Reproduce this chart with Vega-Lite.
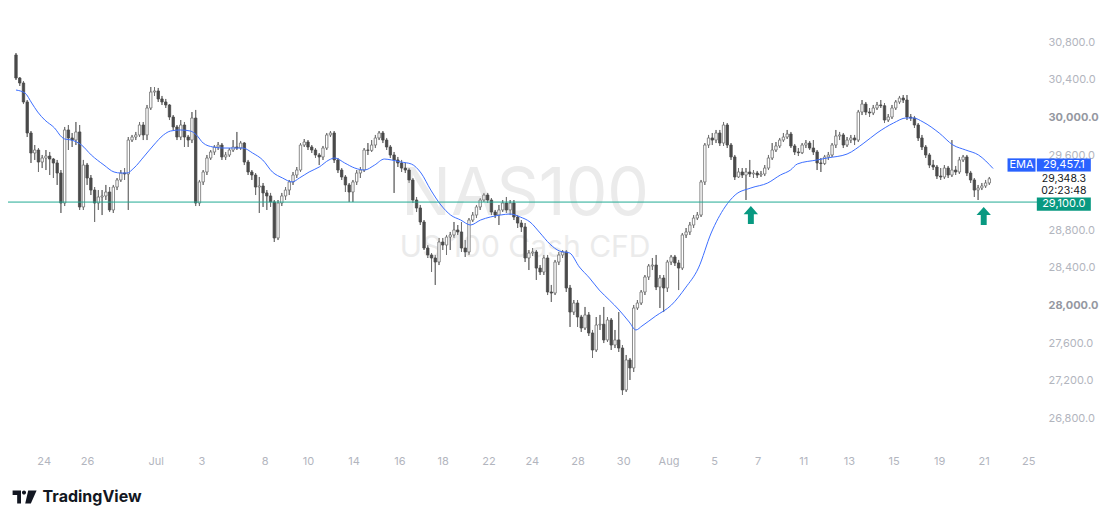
{
  "$schema": "https://vega.github.io/schema/vega-lite/v6.json",
  "width": 1032,
  "height": 448,
  "autosize": "none",
  "padding": {"left": 8, "top": 0, "right": 69, "bottom": 75},
  "background": "#ffffff",
  "config": {"view": {"stroke": null}, "font": "Inter"},
  "datasets": {
    "candles": [
      {"i":0,"o":30665,"h":30686,"l":30399,"c":30420},
      {"i":1,"o":30420,"h":30430,"l":30335,"c":30367},
      {"i":2,"o":30367,"h":30388,"l":30143,"c":30165},
      {"i":3,"o":30165,"h":30186,"l":29792,"c":29835},
      {"i":4,"o":29835,"h":29856,"l":29516,"c":29622},
      {"i":5,"o":29622,"h":29707,"l":29548,"c":29654},
      {"i":6,"o":29654,"h":29675,"l":29420,"c":29526},
      {"i":7,"o":29526,"h":29601,"l":29462,"c":29569},
      {"i":8,"o":29569,"h":29654,"l":29441,"c":29590},
      {"i":9,"o":29590,"h":29633,"l":29388,"c":29558},
      {"i":10,"o":29558,"h":29569,"l":29356,"c":29516},
      {"i":11,"o":29516,"h":29548,"l":29282,"c":29409},
      {"i":12,"o":29409,"h":29441,"l":28984,"c":29090},
      {"i":13,"o":29090,"h":29899,"l":29058,"c":29867},
      {"i":14,"o":29867,"h":29920,"l":29654,"c":29782},
      {"i":15,"o":29782,"h":29835,"l":29686,"c":29760},
      {"i":16,"o":29760,"h":29952,"l":29707,"c":29846},
      {"i":17,"o":29846,"h":29920,"l":29016,"c":29048},
      {"i":18,"o":29048,"h":29548,"l":29016,"c":29494},
      {"i":19,"o":29494,"h":29516,"l":29282,"c":29356},
      {"i":20,"o":29356,"h":29388,"l":29175,"c":29228},
      {"i":21,"o":29228,"h":29260,"l":28888,"c":29090},
      {"i":22,"o":29090,"h":29228,"l":29016,"c":29154},
      {"i":23,"o":29154,"h":29228,"l":28962,"c":29165},
      {"i":24,"o":29165,"h":29282,"l":29122,"c":29207},
      {"i":25,"o":29207,"h":29260,"l":28994,"c":29016},
      {"i":26,"o":29016,"h":29282,"l":28984,"c":29260},
      {"i":27,"o":29260,"h":29356,"l":29228,"c":29335},
      {"i":28,"o":29335,"h":29441,"l":29314,"c":29409},
      {"i":29,"o":29409,"h":29462,"l":29335,"c":29399},
      {"i":30,"o":29399,"h":29792,"l":29016,"c":29760},
      {"i":31,"o":29760,"h":29814,"l":29739,"c":29792},
      {"i":32,"o":29792,"h":29846,"l":29760,"c":29814},
      {"i":33,"o":29814,"h":29952,"l":29792,"c":29920},
      {"i":34,"o":29920,"h":29952,"l":29760,"c":29814},
      {"i":35,"o":29814,"h":30133,"l":29760,"c":30101},
      {"i":36,"o":30101,"h":30324,"l":30080,"c":30271},
      {"i":37,"o":30271,"h":30324,"l":30229,"c":30282},
      {"i":38,"o":30282,"h":30314,"l":30165,"c":30197},
      {"i":39,"o":30197,"h":30229,"l":30133,"c":30165},
      {"i":40,"o":30165,"h":30197,"l":30101,"c":30133},
      {"i":41,"o":30133,"h":30143,"l":29973,"c":30005},
      {"i":42,"o":30005,"h":30026,"l":29867,"c":29899},
      {"i":43,"o":29899,"h":29920,"l":29760,"c":29792},
      {"i":44,"o":29792,"h":29973,"l":29760,"c":29920},
      {"i":45,"o":29920,"h":29952,"l":29686,"c":29792},
      {"i":46,"o":29792,"h":29814,"l":29686,"c":29760},
      {"i":47,"o":29760,"h":30058,"l":29728,"c":29994},
      {"i":48,"o":29994,"h":30080,"l":29058,"c":29090},
      {"i":49,"o":29090,"h":29335,"l":29058,"c":29314},
      {"i":50,"o":29314,"h":29441,"l":29282,"c":29420},
      {"i":51,"o":29420,"h":29601,"l":29388,"c":29569},
      {"i":52,"o":29569,"h":29654,"l":29548,"c":29633},
      {"i":53,"o":29633,"h":29707,"l":29601,"c":29686},
      {"i":54,"o":29686,"h":29739,"l":29654,"c":29707},
      {"i":55,"o":29707,"h":29728,"l":29548,"c":29580},
      {"i":56,"o":29580,"h":29633,"l":29548,"c":29601},
      {"i":57,"o":29601,"h":29675,"l":29580,"c":29654},
      {"i":58,"o":29654,"h":29760,"l":29633,"c":29686},
      {"i":59,"o":29686,"h":29846,"l":29654,"c":29675},
      {"i":60,"o":29675,"h":29750,"l":29654,"c":29728},
      {"i":61,"o":29728,"h":29739,"l":29494,"c":29526},
      {"i":62,"o":29526,"h":29548,"l":29388,"c":29420},
      {"i":63,"o":29420,"h":29441,"l":29335,"c":29388},
      {"i":64,"o":29388,"h":29409,"l":29175,"c":29260},
      {"i":65,"o":29260,"h":29367,"l":28984,"c":29271},
      {"i":66,"o":29271,"h":29303,"l":29048,"c":29197},
      {"i":67,"o":29197,"h":29228,"l":29016,"c":29165},
      {"i":68,"o":29165,"h":29197,"l":29048,"c":29101},
      {"i":69,"o":29101,"h":29122,"l":28675,"c":28718},
      {"i":70,"o":28718,"h":29122,"l":28696,"c":29090},
      {"i":71,"o":29090,"h":29197,"l":29058,"c":29165},
      {"i":72,"o":29165,"h":29260,"l":29122,"c":29228},
      {"i":73,"o":29228,"h":29335,"l":29175,"c":29314},
      {"i":74,"o":29314,"h":29420,"l":29282,"c":29388},
      {"i":75,"o":29388,"h":29473,"l":29356,"c":29441},
      {"i":76,"o":29441,"h":29728,"l":29420,"c":29707},
      {"i":77,"o":29707,"h":29771,"l":29686,"c":29739},
      {"i":78,"o":29739,"h":29760,"l":29654,"c":29686},
      {"i":79,"o":29686,"h":29707,"l":29622,"c":29654},
      {"i":80,"o":29654,"h":29675,"l":29569,"c":29601},
      {"i":81,"o":29601,"h":29622,"l":29494,"c":29580},
      {"i":82,"o":29580,"h":29697,"l":29548,"c":29675},
      {"i":83,"o":29675,"h":29835,"l":29654,"c":29814},
      {"i":84,"o":29814,"h":29856,"l":29792,"c":29835},
      {"i":85,"o":29835,"h":29856,"l":29516,"c":29548},
      {"i":86,"o":29548,"h":29569,"l":29409,"c":29441},
      {"i":87,"o":29441,"h":29462,"l":29335,"c":29367},
      {"i":88,"o":29367,"h":29388,"l":29207,"c":29282},
      {"i":89,"o":29282,"h":29303,"l":29101,"c":29207},
      {"i":90,"o":29207,"h":29335,"l":29101,"c":29314},
      {"i":91,"o":29314,"h":29441,"l":29282,"c":29409},
      {"i":92,"o":29409,"h":29473,"l":29356,"c":29441},
      {"i":93,"o":29441,"h":29675,"l":29420,"c":29654},
      {"i":94,"o":29654,"h":29728,"l":29601,"c":29650},
      {"i":95,"o":29650,"h":29760,"l":29633,"c":29707},
      {"i":96,"o":29707,"h":29814,"l":29675,"c":29782},
      {"i":97,"o":29782,"h":29856,"l":29760,"c":29835},
      {"i":98,"o":29835,"h":29856,"l":29728,"c":29760},
      {"i":99,"o":29760,"h":29782,"l":29654,"c":29686},
      {"i":100,"o":29686,"h":29707,"l":29569,"c":29601},
      {"i":101,"o":29601,"h":29633,"l":29197,"c":29548},
      {"i":102,"o":29548,"h":29580,"l":29473,"c":29516},
      {"i":103,"o":29516,"h":29548,"l":29420,"c":29462},
      {"i":104,"o":29462,"h":29516,"l":29409,"c":29441},
      {"i":105,"o":29441,"h":29462,"l":29303,"c":29335},
      {"i":106,"o":29335,"h":29356,"l":29090,"c":29122},
      {"i":107,"o":29122,"h":29154,"l":28994,"c":29037},
      {"i":108,"o":29037,"h":29069,"l":28856,"c":28888},
      {"i":109,"o":28888,"h":28909,"l":28590,"c":28611},
      {"i":110,"o":28611,"h":28643,"l":28505,"c":28537},
      {"i":111,"o":28537,"h":28558,"l":28356,"c":28505},
      {"i":112,"o":28505,"h":28537,"l":28218,"c":28462},
      {"i":113,"o":28462,"h":28718,"l":28430,"c":28675},
      {"i":114,"o":28675,"h":28718,"l":28590,"c":28643},
      {"i":115,"o":28643,"h":28750,"l":28537,"c":28728},
      {"i":116,"o":28728,"h":28782,"l":28590,"c":28750},
      {"i":117,"o":28750,"h":28888,"l":28718,"c":28803},
      {"i":118,"o":28803,"h":28856,"l":28750,"c":28782},
      {"i":119,"o":28782,"h":28888,"l":28569,"c":28611},
      {"i":120,"o":28611,"h":28696,"l":28516,"c":28569},
      {"i":121,"o":28569,"h":28930,"l":28537,"c":28909},
      {"i":122,"o":28909,"h":28994,"l":28888,"c":28962},
      {"i":123,"o":28962,"h":29069,"l":28930,"c":29048},
      {"i":124,"o":29048,"h":29143,"l":29016,"c":29122},
      {"i":125,"o":29122,"h":29197,"l":29101,"c":29175},
      {"i":126,"o":29175,"h":29197,"l":29090,"c":29122},
      {"i":127,"o":29122,"h":29143,"l":28962,"c":28994},
      {"i":128,"o":28994,"h":29016,"l":28930,"c":28962},
      {"i":129,"o":28962,"h":29069,"l":28856,"c":29016},
      {"i":130,"o":29016,"h":29122,"l":28994,"c":29090},
      {"i":131,"o":29090,"h":29154,"l":28984,"c":29016},
      {"i":132,"o":29016,"h":29122,"l":28962,"c":29090},
      {"i":133,"o":29090,"h":29122,"l":28909,"c":28941},
      {"i":134,"o":28941,"h":28962,"l":28824,"c":28877},
      {"i":135,"o":28877,"h":28909,"l":28782,"c":28835},
      {"i":136,"o":28835,"h":28877,"l":28462,"c":28505},
      {"i":137,"o":28505,"h":28590,"l":28377,"c":28558},
      {"i":138,"o":28558,"h":28611,"l":28526,"c":28569},
      {"i":139,"o":28569,"h":28590,"l":28271,"c":28398},
      {"i":140,"o":28398,"h":28430,"l":28324,"c":28356},
      {"i":141,"o":28356,"h":28537,"l":28324,"c":28505},
      {"i":142,"o":28505,"h":28537,"l":28111,"c":28143},
      {"i":143,"o":28143,"h":28218,"l":28037,"c":28132},
      {"i":144,"o":28132,"h":28484,"l":28111,"c":28462},
      {"i":145,"o":28462,"h":28569,"l":28430,"c":28537},
      {"i":146,"o":28537,"h":28590,"l":28505,"c":28569},
      {"i":147,"o":28569,"h":28590,"l":28143,"c":28186},
      {"i":148,"o":28186,"h":28218,"l":27771,"c":27930},
      {"i":149,"o":27930,"h":28058,"l":27899,"c":28026},
      {"i":150,"o":28026,"h":28058,"l":27771,"c":27877},
      {"i":151,"o":27877,"h":27899,"l":27718,"c":27760},
      {"i":152,"o":27760,"h":27984,"l":27739,"c":27899},
      {"i":153,"o":27899,"h":27930,"l":27675,"c":27707},
      {"i":154,"o":27707,"h":27739,"l":27441,"c":27526},
      {"i":155,"o":27526,"h":27877,"l":27505,"c":27792},
      {"i":156,"o":27792,"h":27899,"l":27739,"c":27800},
      {"i":157,"o":27800,"h":27984,"l":27600,"c":27633},
      {"i":158,"o":27633,"h":27877,"l":27611,"c":27845},
      {"i":159,"o":27845,"h":27866,"l":27526,"c":27579},
      {"i":160,"o":27579,"h":27739,"l":27547,"c":27633},
      {"i":161,"o":27633,"h":27930,"l":27505,"c":27547},
      {"i":162,"o":27547,"h":27579,"l":27048,"c":27101},
      {"i":163,"o":27101,"h":27473,"l":27080,"c":27420},
      {"i":164,"o":27420,"h":27441,"l":27207,"c":27335},
      {"i":165,"o":27335,"h":28005,"l":27292,"c":27973},
      {"i":166,"o":27973,"h":28058,"l":27952,"c":28026},
      {"i":167,"o":28026,"h":28164,"l":28005,"c":28143},
      {"i":168,"o":28143,"h":28324,"l":28111,"c":28303},
      {"i":169,"o":28303,"h":28441,"l":28271,"c":28420},
      {"i":170,"o":28420,"h":28505,"l":28377,"c":28430},
      {"i":171,"o":28430,"h":28537,"l":28164,"c":28196},
      {"i":172,"o":28196,"h":28324,"l":27973,"c":28292},
      {"i":173,"o":28292,"h":28324,"l":27930,"c":28186},
      {"i":174,"o":28186,"h":28484,"l":28143,"c":28462},
      {"i":175,"o":28462,"h":28537,"l":28430,"c":28516},
      {"i":176,"o":28516,"h":28537,"l":28420,"c":28452},
      {"i":177,"o":28452,"h":28484,"l":28164,"c":28398},
      {"i":178,"o":28398,"h":28771,"l":28377,"c":28750},
      {"i":179,"o":28750,"h":28824,"l":28718,"c":28782},
      {"i":180,"o":28782,"h":28888,"l":28750,"c":28856},
      {"i":181,"o":28856,"h":28962,"l":28824,"c":28930},
      {"i":182,"o":28930,"h":28994,"l":28909,"c":28962},
      {"i":183,"o":28962,"h":29335,"l":28941,"c":29314},
      {"i":184,"o":29314,"h":29728,"l":29282,"c":29707},
      {"i":185,"o":29707,"h":29814,"l":29675,"c":29782},
      {"i":186,"o":29782,"h":29835,"l":29707,"c":29760},
      {"i":187,"o":29760,"h":29867,"l":29728,"c":29835},
      {"i":188,"o":29835,"h":29867,"l":29697,"c":29728},
      {"i":189,"o":29728,"h":29952,"l":29697,"c":29920},
      {"i":190,"o":29920,"h":29941,"l":29675,"c":29707},
      {"i":191,"o":29707,"h":29728,"l":29548,"c":29580},
      {"i":192,"o":29580,"h":29601,"l":29335,"c":29367},
      {"i":193,"o":29367,"h":29462,"l":29356,"c":29420},
      {"i":194,"o":29420,"h":29462,"l":29356,"c":29388},
      {"i":195,"o":29388,"h":29462,"l":29122,"c":29420},
      {"i":196,"o":29420,"h":29548,"l":29367,"c":29399},
      {"i":197,"o":29399,"h":29441,"l":29356,"c":29409},
      {"i":198,"o":29409,"h":29431,"l":29356,"c":29388},
      {"i":199,"o":29388,"h":29431,"l":29367,"c":29399},
      {"i":200,"o":29399,"h":29494,"l":29377,"c":29462},
      {"i":201,"o":29462,"h":29601,"l":29441,"c":29569},
      {"i":202,"o":29569,"h":29728,"l":29548,"c":29654},
      {"i":203,"o":29654,"h":29739,"l":29633,"c":29697},
      {"i":204,"o":29697,"h":29782,"l":29675,"c":29760},
      {"i":205,"o":29760,"h":29835,"l":29739,"c":29792},
      {"i":206,"o":29792,"h":29867,"l":29771,"c":29824},
      {"i":207,"o":29824,"h":29846,"l":29675,"c":29697},
      {"i":208,"o":29697,"h":29718,"l":29601,"c":29633},
      {"i":209,"o":29633,"h":29675,"l":29590,"c":29625},
      {"i":210,"o":29625,"h":29728,"l":29611,"c":29707},
      {"i":211,"o":29707,"h":29760,"l":29675,"c":29728},
      {"i":212,"o":29728,"h":29750,"l":29654,"c":29675},
      {"i":213,"o":29675,"h":29760,"l":29601,"c":29633},
      {"i":214,"o":29633,"h":29654,"l":29441,"c":29516},
      {"i":215,"o":29516,"h":29569,"l":29420,"c":29510},
      {"i":216,"o":29510,"h":29601,"l":29494,"c":29580},
      {"i":217,"o":29580,"h":29633,"l":29548,"c":29601},
      {"i":218,"o":29601,"h":29728,"l":29580,"c":29707},
      {"i":219,"o":29707,"h":29867,"l":29675,"c":29803},
      {"i":220,"o":29803,"h":29846,"l":29760,"c":29814},
      {"i":221,"o":29814,"h":29835,"l":29675,"c":29707},
      {"i":222,"o":29707,"h":29792,"l":29686,"c":29760},
      {"i":223,"o":29760,"h":29814,"l":29728,"c":29782},
      {"i":224,"o":29782,"h":29814,"l":29707,"c":29760},
      {"i":225,"o":29760,"h":30080,"l":29739,"c":30058},
      {"i":226,"o":30058,"h":30186,"l":30026,"c":30143},
      {"i":227,"o":30143,"h":30165,"l":30026,"c":30058},
      {"i":228,"o":30058,"h":30101,"l":30005,"c":30048},
      {"i":229,"o":30048,"h":30133,"l":30026,"c":30101},
      {"i":230,"o":30101,"h":30165,"l":30080,"c":30133},
      {"i":231,"o":30133,"h":30186,"l":30101,"c":30125},
      {"i":232,"o":30125,"h":30154,"l":29941,"c":29973},
      {"i":233,"o":29973,"h":30037,"l":29952,"c":30005},
      {"i":234,"o":30005,"h":30133,"l":29984,"c":30101},
      {"i":235,"o":30101,"h":30186,"l":30080,"c":30165},
      {"i":236,"o":30165,"h":30229,"l":30143,"c":30207},
      {"i":237,"o":30207,"h":30239,"l":30154,"c":30186},
      {"i":238,"o":30186,"h":30239,"l":29973,"c":30005},
      {"i":239,"o":30005,"h":30037,"l":29963,"c":29994},
      {"i":240,"o":29994,"h":30016,"l":29888,"c":29920},
      {"i":241,"o":29920,"h":29941,"l":29750,"c":29782},
      {"i":242,"o":29782,"h":29814,"l":29654,"c":29686},
      {"i":243,"o":29686,"h":29707,"l":29569,"c":29601},
      {"i":244,"o":29601,"h":29622,"l":29462,"c":29494},
      {"i":245,"o":29494,"h":29548,"l":29441,"c":29473},
      {"i":246,"o":29473,"h":29494,"l":29346,"c":29377},
      {"i":247,"o":29377,"h":29462,"l":29335,"c":29367},
      {"i":248,"o":29367,"h":29494,"l":29346,"c":29462},
      {"i":249,"o":29462,"h":29484,"l":29356,"c":29388},
      {"i":250,"o":29388,"h":29760,"l":29367,"c":29441},
      {"i":251,"o":29441,"h":29484,"l":29388,"c":29420},
      {"i":252,"o":29420,"h":29580,"l":29399,"c":29548},
      {"i":253,"o":29548,"h":29601,"l":29526,"c":29580},
      {"i":254,"o":29580,"h":29601,"l":29377,"c":29409},
      {"i":255,"o":29409,"h":29431,"l":29303,"c":29335},
      {"i":256,"o":29335,"h":29356,"l":29154,"c":29228},
      {"i":257,"o":29228,"h":29282,"l":29122,"c":29250},
      {"i":258,"o":29250,"h":29303,"l":29228,"c":29271},
      {"i":259,"o":29271,"h":29335,"l":29250,"c":29303},
      {"i":260,"o":29303,"h":29367,"l":29282,"c":29348.3}
    ],
    "ema": [
      {"i":0,"v":30292},{"i":2.4,"v":30260},{"i":4.2,"v":30154},{"i":5.8,"v":30058},{"i":7.7,"v":29973},
      {"i":10.3,"v":29888},{"i":12.2,"v":29792},{"i":13,"v":29771},{"i":14.8,"v":29760},{"i":17.5,"v":29707},
      {"i":20.1,"v":29601},{"i":23.5,"v":29494},{"i":26.2,"v":29420},{"i":28,"v":29409},{"i":29.6,"v":29409},
      {"i":31.5,"v":29462},{"i":34.1,"v":29580},{"i":36.8,"v":29707},{"i":39.4,"v":29814},{"i":41.3,"v":29856},
      {"i":43.9,"v":29867},{"i":46.6,"v":29856},{"i":48.2,"v":29814},{"i":50,"v":29728},{"i":52.6,"v":29686},
      {"i":55.3,"v":29675},{"i":58,"v":29675},{"i":60.6,"v":29675},{"i":63.2,"v":29622},{"i":65.9,"v":29548},
      {"i":68.5,"v":29420},{"i":71.2,"v":29356},{"i":73.8,"v":29314},{"i":75.7,"v":29356},{"i":78.3,"v":29420},
      {"i":81,"v":29473},{"i":83.6,"v":29548},{"i":85.2,"v":29569},{"i":87.8,"v":29516},{"i":90.5,"v":29462},
      {"i":93.1,"v":29441},{"i":95.8,"v":29494},{"i":98.4,"v":29558},{"i":100.3,"v":29548},{"i":102.9,"v":29526},
      {"i":105.6,"v":29505},{"i":108.2,"v":29409},{"i":110.8,"v":29228},{"i":113.5,"v":29069},{"i":116.1,"v":28962},
      {"i":118.8,"v":28909},{"i":121.4,"v":28856},{"i":124.1,"v":28909},{"i":126.7,"v":28941},{"i":129.4,"v":28962},
      {"i":132,"v":28973},{"i":134.7,"v":28941},{"i":137.3,"v":28888},{"i":140,"v":28771},{"i":142.6,"v":28654},
      {"i":145.2,"v":28579},{"i":147.9,"v":28558},{"i":150.5,"v":28409},{"i":153.2,"v":28292},{"i":155.8,"v":28164},
      {"i":158.5,"v":28058},{"i":161.1,"v":27952},{"i":163.8,"v":27824},{"i":165.6,"v":27739},{"i":167.2,"v":27781},
      {"i":170.9,"v":27888},{"i":175.1,"v":28005},{"i":178.8,"v":28186},{"i":182.3,"v":28399},{"i":185.7,"v":28771},
      {"i":189.4,"v":29048},{"i":192.1,"v":29175},{"i":196.3,"v":29250},{"i":200.8,"v":29303},{"i":204.2,"v":29388},
      {"i":206.9,"v":29441},{"i":208.7,"v":29505},{"i":214,"v":29548},{"i":216.7,"v":29569},{"i":222,"v":29611},
      {"i":226.5,"v":29728},{"i":230,"v":29835},{"i":234.4,"v":29941},{"i":237.8,"v":29995},{"i":239.7,"v":29995},
      {"i":242.3,"v":29952},{"i":246.6,"v":29835},{"i":250.3,"v":29707},{"i":253.7,"v":29654},{"i":257.1,"v":29601},
      {"i":261,"v":29457.1}
    ],
    "arrows": [
      {"i":196.3,"p":28962},
      {"i":258.5,"p":28952}
    ],
    "emaLabel": [{"v":29457.1,"label":"29,457.1","name":"EMA"}],
    "lastPrice": [{"v":29348.3,"label":"29,348.3","countdown":"02:23:48"}],
    "level": [{"v":29100,"label":"29,100.0"}],
    "watermark": [{"symbol":"NAS100","description":"US 100 Cash CFD"}],
    "logo": [{"brand":"TradingView"}]
  },
  "layer": [
    {
      "data": {"name": "candles"},
      "mark": {"type": "rule", "color": "#737373", "strokeWidth": 1},
      "encoding": {
        "x": {
          "field": "i", "type": "quantitative", "title": null,
          "scale": {"domain": [-0.8, 272.2], "nice": false, "zero": false},
          "axis": {
            "title": null, "domain": false, "ticks": false, "grid": false,
            "values": [7.4,19,37.3,49.5,66.4,78,90.2,102.4,114,126.2,137.8,150,162.2,174.3,186.5,198.1,210.3,222.5,234.4,246.6,258.5,270.4],
            "labelExpr": "['24','26','Jul','3','8','10','14','16','18','22','24','28','30','Aug','5','7','11','13','15','19','21','25'][indexof([7.4,19,37.3,49.5,66.4,78,90.2,102.4,114,126.2,137.8,150,162.2,174.3,186.5,198.1,210.3,222.5,234.4,246.6,258.5,270.4], datum.value)]",
            "labelColor": "#b2b5be", "labelFontSize": 11, "labelFont": "Inter", "labelPadding": 7,
            "labelOverlap": false, "labelFlush": false
          }
        },
        "y": {
          "field": "l", "type": "quantitative", "title": null,
          "scale": {"domain": [26483.3, 31250], "nice": false, "zero": false},
          "axis": {
            "title": null, "orient": "right", "domain": false, "ticks": false, "grid": false,
            "values": [26800,27200,27600,28000,28400,28800,29600,30000,30400,30800],
            "format": ",.1f", "labelFont": "Inter", "labelFontSize": 11, "labelPadding": 8,
            "labelColor": {"condition": {"test": "datum.value % 2000 === 0", "value": "#9598a1"}, "value": "#b2b5be"},
            "labelFontWeight": {"condition": {"test": "datum.value % 2000 === 0", "value": "bold"}, "value": "normal"},
            "labelOverlap": false, "labelFlush": false
          }
        },
        "y2": {"field": "h"}
      }
    },
    {
      "data": {"name": "watermark"},
      "mark": {"type": "text", "fontSize": 66, "color": "#ebebeb", "font": "Inter", "align": "center", "baseline": "middle"},
      "encoding": {
        "x": {"datum": 136, "type": "quantitative", "title": null},
        "y": {"datum": 29175, "type": "quantitative", "title": null},
        "text": {"field": "symbol"}
      }
    },
    {
      "data": {"name": "watermark"},
      "mark": {"type": "text", "fontSize": 30, "color": "#ebebeb", "font": "Inter", "align": "center", "baseline": "middle"},
      "encoding": {
        "x": {"datum": 136, "type": "quantitative", "title": null},
        "y": {"datum": 28610, "type": "quantitative", "title": null},
        "text": {"field": "description"}
      }
    },
    {
      "data": {"name": "candles"},
      "mark": {"type": "rule", "color": "#737373", "strokeWidth": 1},
      "encoding": {
        "x": {"field": "i", "type": "quantitative", "title": null},
        "y": {"field": "l", "type": "quantitative", "title": null},
        "y2": {"field": "h"}
      }
    },
    {
      "data": {"name": "candles"},
      "mark": {"type": "bar", "width": 2.4, "strokeWidth": 0.8},
      "encoding": {
        "x": {"field": "i", "type": "quantitative", "title": null},
        "y": {"field": "o", "type": "quantitative", "title": null},
        "y2": {"field": "c"},
        "fill": {"condition": {"test": "datum.c < datum.o", "value": "#4a4a4a"}, "value": "#ffffff"},
        "stroke": {"condition": {"test": "datum.c < datum.o", "value": "#4a4a4a"}, "value": "#6e6e6e"}
      }
    },
    {
      "data": {"name": "ema"},
      "mark": {"type": "line", "color": "#3d6fff", "strokeWidth": 1, "interpolate": "monotone"},
      "encoding": {
        "x": {"field": "i", "type": "quantitative", "title": null},
        "y": {"field": "v", "type": "quantitative", "title": null}
      }
    },
    {
      "data": {"name": "level"},
      "mark": {"type": "rule", "color": "#22ab94", "strokeWidth": 1},
      "encoding": {"y": {"field": "v", "type": "quantitative", "title": null}}
    },
    {
      "data": {"name": "arrows"},
      "mark": {"type": "point", "shape": "M0,-1L0.8,-0.1L0.33,-0.1L0.33,1L-0.33,1L-0.33,-0.1L-0.8,-0.1Z", "filled": true, "color": "#089981", "opacity": 1, "size": 324},
      "encoding": {
        "x": {"field": "i", "type": "quantitative", "title": null},
        "y": {"field": "p", "type": "quantitative", "title": null}
      }
    },
    {
      "data": {"name": "emaLabel"},
      "mark": {"type": "point", "shape": "M-1,-0.475L1,-0.475L1,0.475L-1,0.475Z", "filled": true, "color": "#2962ff", "opacity": 1, "size": 784, "yOffset": -3.5},
      "encoding": {
        "x": {"datum": 268.6, "type": "quantitative", "title": null},
        "y": {"field": "v", "type": "quantitative", "title": null}
      }
    },
    {
      "data": {"name": "emaLabel"},
      "mark": {"type": "point", "shape": "M-1,-0.245L1,-0.245L1,0.245L-1,0.245Z", "filled": true, "color": "#2962ff", "opacity": 1, "size": 2916, "yOffset": -3.5},
      "encoding": {
        "x": {"datum": 279.9, "type": "quantitative", "title": null},
        "y": {"field": "v", "type": "quantitative", "title": null}
      }
    },
    {
      "data": {"name": "emaLabel"},
      "mark": {"type": "text", "color": "#ffffff", "fontSize": 11, "font": "Inter", "align": "center", "baseline": "middle", "yOffset": -3.5},
      "encoding": {
        "x": {"datum": 268.6, "type": "quantitative", "title": null},
        "y": {"field": "v", "type": "quantitative", "title": null},
        "text": {"field": "name"}
      }
    },
    {
      "data": {"name": "emaLabel"},
      "mark": {"type": "text", "color": "#ffffff", "fontSize": 11, "font": "Inter", "align": "center", "baseline": "middle", "yOffset": -3.5},
      "encoding": {
        "x": {"datum": 279.9, "type": "quantitative", "title": null},
        "y": {"field": "v", "type": "quantitative", "title": null},
        "text": {"field": "label"}
      }
    },
    {
      "data": {"name": "lastPrice"},
      "mark": {"type": "text", "color": "#131722", "fontSize": 10.5, "font": "Inter", "align": "center", "baseline": "middle"},
      "encoding": {
        "x": {"datum": 279.9, "type": "quantitative", "title": null},
        "y": {"field": "v", "type": "quantitative", "title": null},
        "text": {"field": "label"}
      }
    },
    {
      "data": {"name": "lastPrice"},
      "mark": {"type": "text", "color": "#131722", "fontSize": 10.5, "font": "Inter", "align": "center", "baseline": "middle", "yOffset": 12},
      "encoding": {
        "x": {"datum": 279.9, "type": "quantitative", "title": null},
        "y": {"field": "v", "type": "quantitative", "title": null},
        "text": {"field": "countdown"}
      }
    },
    {
      "data": {"name": "level"},
      "mark": {"type": "point", "shape": "M-1,-0.245L1,-0.245L1,0.245L-1,0.245Z", "filled": true, "color": "#089981", "opacity": 1, "size": 2916, "yOffset": 2},
      "encoding": {
        "x": {"datum": 279.9, "type": "quantitative", "title": null},
        "y": {"field": "v", "type": "quantitative", "title": null}
      }
    },
    {
      "data": {"name": "level"},
      "mark": {"type": "text", "color": "#ffffff", "fontSize": 11, "font": "Inter", "align": "center", "baseline": "middle", "yOffset": 2},
      "encoding": {
        "x": {"datum": 279.9, "type": "quantitative", "title": null},
        "y": {"field": "v", "type": "quantitative", "title": null},
        "text": {"field": "label"}
      }
    },
    {
      "data": {"name": "logo"},
      "mark": {"type": "point", "shape": "M-1,-0.55L-0.3,-0.55L-0.3,0.55L-0.62,0.55L-0.62,-0.17L-1,-0.17Z M-0.22,-0.38a0.17,0.17 0 1,0 0.34,0a0.17,0.17 0 1,0 -0.34,0Z M0.3,-0.55L1,-0.55L0.52,0.55L0.05,0.55Z", "filled": true, "color": "#131722", "opacity": 1, "size": 576},
      "encoding": {
        "x": {"datum": 2.3, "type": "quantitative", "title": null},
        "y": {"datum": 25962, "type": "quantitative", "title": null}
      }
    },
    {
      "data": {"name": "logo"},
      "mark": {"type": "text", "fontSize": 16, "fontWeight": "bold", "color": "#131722", "font": "Inter", "align": "left", "baseline": "middle"},
      "encoding": {
        "x": {"datum": 7.1, "type": "quantitative", "title": null},
        "y": {"datum": 25962, "type": "quantitative", "title": null},
        "text": {"field": "brand"}
      }
    }
  ]
}
